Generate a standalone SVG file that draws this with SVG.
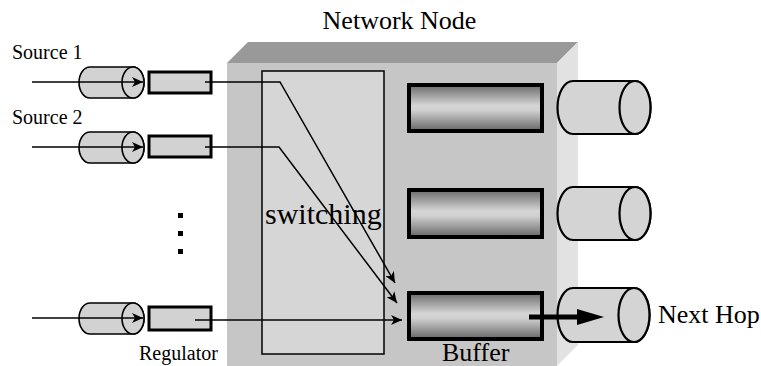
<svg xmlns="http://www.w3.org/2000/svg" width="761" height="366" viewBox="0 0 761 366">
<style>
text{font-family:"Liberation Serif","Times New Roman",serif;fill:#000}
.cyl{fill:#d2d2d2;stroke:#000;stroke-width:1.6}
.ocyl{fill:#d4d4d4;stroke:#000;stroke-width:2.2}
.reg{fill:#d2d2d2;stroke:#000;stroke-width:3}
.buf{fill:url(#bufg);stroke:#000;stroke-width:4}
.ln{fill:none;stroke:#000;stroke-width:1.5}
</style>
<defs>
<linearGradient id="bufg" x1="0" y1="0" x2="0" y2="1">
<stop offset="0" stop-color="#6a6a6a"/>
<stop offset="0.45" stop-color="#d6d6d6"/>
<stop offset="0.55" stop-color="#d0d0d0"/>
<stop offset="1" stop-color="#666666"/>
</linearGradient>
<marker id="ah" markerUnits="userSpaceOnUse" markerWidth="12" markerHeight="10" refX="11" refY="5" orient="auto">
<path d="M0,0 L11,5 L0,10 L3,5 Z" fill="#000"/>
</marker>
</defs>

<g id="network-node">
<polygon points="227,63 248,42 578,42 557,63" fill="#999999"/>
<rect x="227" y="63" width="330" height="303" fill="#c6c6c6"/>
<polygon points="557,63 578,42 578,345 557,366" fill="#e2e2e2"/>
<text x="399.5" y="29" font-size="26" text-anchor="middle">Network Node</text>
</g>

<g id="switching">
<rect x="262" y="71" width="122" height="283" fill="#d6d6d6" stroke="#000" stroke-width="1.5"/>
<text x="265" y="224" font-size="30">switching</text>
</g>

<g id="source1">
<text x="12" y="59" font-size="20">Source 1</text>
<path class="cyl" d="M90,67 L133,67 A11,15.5 0 0 1 133,98 L90,98 A11,15.5 0 0 1 90,67 Z"/>
<ellipse class="cyl" cx="133" cy="82.5" rx="11" ry="15.5"/>
</g>
<g id="regulator1"><rect class="reg" x="149" y="72" width="62" height="21"/></g>

<g id="source2">
<text x="12" y="124" font-size="20">Source 2</text>
<path class="cyl" d="M90,132 L133,132 A11,15.5 0 0 1 133,163 L90,163 A11,15.5 0 0 1 90,132 Z"/>
<ellipse class="cyl" cx="133" cy="147.5" rx="11" ry="15.5"/>
</g>
<g id="regulator2"><rect class="reg" x="149" y="136" width="62" height="21"/></g>

<g id="ellipsis">
<rect x="178" y="213" width="5" height="5"/>
<rect x="178" y="231" width="5" height="5"/>
<rect x="178" y="249" width="5" height="5"/>
</g>

<g id="source3">
<path class="cyl" d="M90,303 L133,303 A11,15.5 0 0 1 133,334 L90,334 A11,15.5 0 0 1 90,303 Z"/>
<ellipse class="cyl" cx="133" cy="318.5" rx="11" ry="15.5"/>
</g>
<g id="regulator3">
<rect class="reg" x="149" y="307" width="62" height="23"/>
<text x="139" y="360" font-size="20">Regulator</text>
</g>

<g id="buffer1"><rect class="buf" x="409" y="85" width="133" height="46"/></g>
<g id="buffer2"><rect class="buf" x="409" y="190" width="133" height="47"/></g>
<g id="buffer3">
<rect class="buf" x="409" y="293" width="133" height="46"/>
<text x="442" y="361" font-size="26">Buffer</text>
</g>

<g id="out1">
<path class="ocyl" d="M573,81 L635,81 A15.5,26.5 0 0 1 635,134 L573,134 A15.5,26.5 0 0 1 573,81 Z"/>
<ellipse class="ocyl" cx="635" cy="107.5" rx="15.5" ry="26.5"/>
</g>
<g id="out2">
<path class="ocyl" d="M573,187 L635,187 A15.5,26.5 0 0 1 635,240 L573,240 A15.5,26.5 0 0 1 573,187 Z"/>
<ellipse class="ocyl" cx="635" cy="213.5" rx="15.5" ry="26.5"/>
</g>
<g id="out3">
<path class="ocyl" d="M573,288 L634,288 A15.5,27 0 0 1 634,342 L573,342 A15.5,27 0 0 1 573,288 Z"/>
<ellipse class="ocyl" cx="634" cy="315" rx="15.5" ry="27"/>
<text x="658" y="323" font-size="26">Next Hop</text>
</g>

<g id="connectors">
<line class="ln" x1="32" y1="82" x2="143" y2="82" marker-end="url(#ah)"/>
<line class="ln" x1="32" y1="147" x2="143" y2="147" marker-end="url(#ah)"/>
<line class="ln" x1="32" y1="318" x2="143" y2="318" marker-end="url(#ah)"/>
<polyline class="ln" points="205,82 280,82 395,283" marker-end="url(#ah)"/>
<polyline class="ln" points="205,147 279,147 397,303" marker-end="url(#ah)"/>
<polyline class="ln" points="195,320 402,320" marker-end="url(#ah)"/>
<line x1="529" y1="317" x2="580" y2="317" stroke="#000" stroke-width="5"/>
<polygon points="577,309 604,317 577,325" fill="#000"/>
</g>
</svg>
